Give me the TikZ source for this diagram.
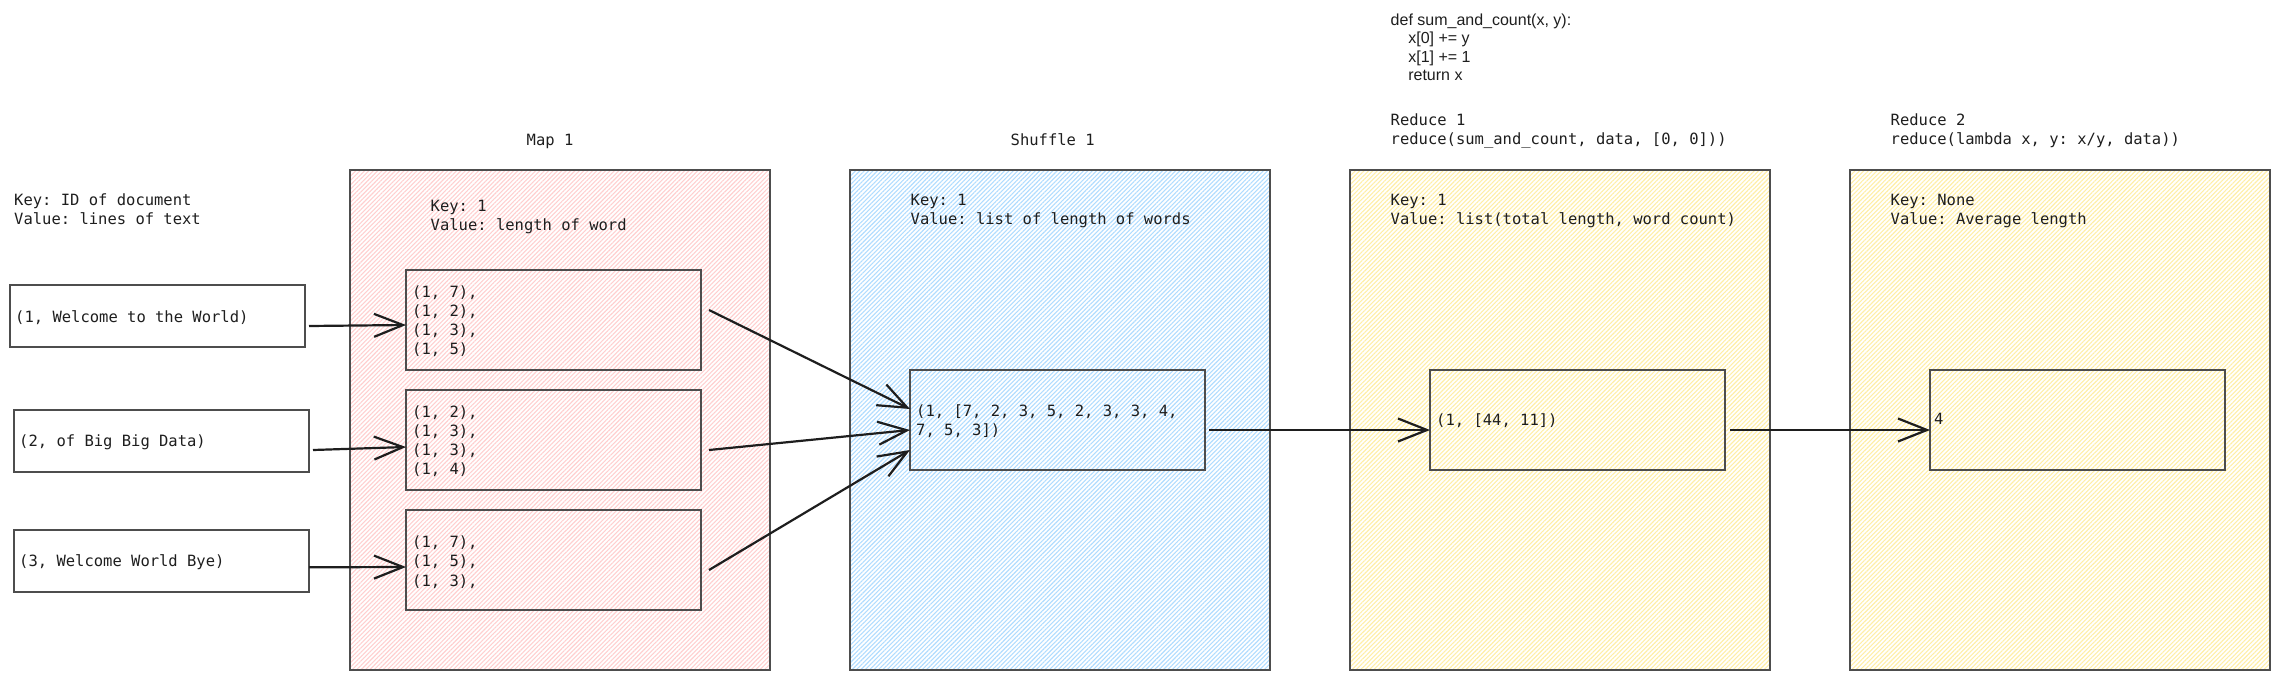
\documentclass[tikz,border=0pt]{standalone}
\usepackage{fontspec}
\setmonofont{DejaVu Sans Mono}
\newfontfamily\codefont{Liberation Sans}
\usetikzlibrary{arrows.meta,patterns.meta,calc}
\definecolor{ink}{HTML}{1E1E1E}
\definecolor{edge}{HTML}{4D4D4D}
\definecolor{hpink}{HTML}{FFCFCF}
\definecolor{hblue}{HTML}{B0DCFF}
\definecolor{hyellow}{HTML}{FFEEA6}
\newcommand\ml[1]{\begin{tabular}[t]{@{}l@{}}#1\end{tabular}}
\begin{document}
\begin{tikzpicture}[x=1pt,y=-1pt,
  mono/.style={font=\ttfamily\fontsize{15.5pt}{19.2pt}\selectfont, text=ink, inner sep=0pt, anchor=base west},
  code/.style={font=\codefont\fontsize{16pt}{18.2pt}\selectfont, text=ink, inner sep=0pt, anchor=base west},
  stage/.style={draw=edge, line width=2pt, minimum width=420pt, minimum height=500pt,
    anchor=north west, inner sep=0pt, outer sep=0pt,
    pattern={Lines[angle=45,distance=3.1pt,line width=1.1pt]}},
  inbox/.style={draw=edge, line width=2pt, minimum width=295pt, minimum height=100pt,
    anchor=north west, inner sep=0pt, outer sep=0pt},
  srcbox/.style={draw=edge, line width=2pt, minimum width=295pt, minimum height=62pt,
    anchor=north west, inner sep=0pt, outer sep=0pt},
  flow/.style={draw=ink, line width=2.2pt, -{Straight Barb[length=29pt,width=23pt]}}
]
\useasboundingbox (0,0) rectangle (2280,680);

% stage containers
\node[stage, pattern color=hpink] (map) at (350,170) {};
\node[stage, pattern color=hblue] (shuf) at (850,170) {};
\node[stage, pattern color=hyellow] (red1) at (1350,170) {};
\node[stage, pattern color=hyellow] (red2) at (1850,170) {};

% titles
\node[mono] (mapT) at (526.5,145) {Map 1};
\node[mono] (shufT) at (1010.5,145) {Shuffle 1};
\node[mono] (red1T) at (1390.5,125) {\ml{Reduce 1\\reduce(sum\_and\_count, data, [0, 0]))}};
\node[mono] (red2T) at (1890.5,125) {\ml{Reduce 2\\reduce(lambda x, y: x/y, data))}};
\node[code] (codeT) at (1390.5,25.7) {\ml{def sum\_and\_count(x, y):\\\hspace*{17.6pt}x[0] += y\\\hspace*{17.6pt}x[1] += 1\\\hspace*{17.6pt}return x}};

% key/value labels
\node[mono] (srcK) at (14,205) {\ml{Key: ID of document\\Value: lines of text}};
\node[mono] (mapK) at (430.5,211.5) {\ml{Key: 1\\Value: length of word}};
\node[mono] (shufK) at (910.5,205) {\ml{Key: 1\\Value: list of length of words}};
\node[mono] (red1K) at (1390.5,205) {\ml{Key: 1\\Value: list(total length, word count)}};
\node[mono] (red2K) at (1890.5,205) {\ml{Key: None\\Value: Average length}};

% input boxes
\node[srcbox] (in1) at (10,285) {};
\node[srcbox] (in2) at (14,410) {};
\node[srcbox] (in3) at (14,530) {};
\node[mono] (in1t) at (15,322) {(1, Welcome to the World)};
\node[mono] (in2t) at (19,446) {(2, of Big Big Data)};
\node[mono] (in3t) at (19,566) {(3, Welcome World Bye)};

% map boxes
\node[inbox] (ma) at (406,270) {};
\node[inbox] (mb) at (406,390) {};
\node[inbox] (mc) at (406,510) {};
\node[mono] (mat) at (412,297.3) {\ml{(1, 7),\\(1, 2),\\(1, 3),\\(1, 5)}};
\node[mono] (mbt) at (412,417.3) {\ml{(1, 2),\\(1, 3),\\(1, 3),\\(1, 4)}};
\node[mono] (mct) at (412,547.7) {\ml{(1, 7),\\(1, 5),\\(1, 3),}};

% shuffle / reduce boxes
\node[inbox] (sh) at (910,370) {};
\node[inbox] (r1) at (1430,370) {};
\node[inbox] (r2) at (1930,370) {};
\node[mono] (sht) at (916,416.5) {\ml{(1, [7, 2, 3, 5, 2, 3, 3, 4,\\7, 5, 3])}};
\node[mono] (r1t) at (1436,425) {(1, [44, 11])};
\node[mono] (r2t) at (1934,424.5) {4};

% connectors
\draw[flow] ($(in1.east)+(4,10)$) -- ($(ma.west)+(0,5)$);
\draw[flow] ($(in2.east)+(4,9)$) -- ($(mb.west)+(0,7)$);
\draw[flow] ($(in3.east)+(0,6.3)$) -- ($(mc.west)+(0,7)$);
\draw[flow] ($(ma.east)+(8,-10)$) -- ($(sh.west)+(0,-11)$);
\draw[flow] ($(mb.east)+(8,10)$) -- ($(sh.west)+(0,10)$);
\draw[flow] ($(mc.east)+(8,10)$) -- ($(sh.west)+(0,30)$);
\draw[flow] ($(sh.east)+(4,10)$) -- ($(r1.west)+(0,10)$);
\draw[flow] ($(r1.east)+(5,10)$) -- ($(r2.west)+(0,10)$);
\end{tikzpicture}
\end{document}
